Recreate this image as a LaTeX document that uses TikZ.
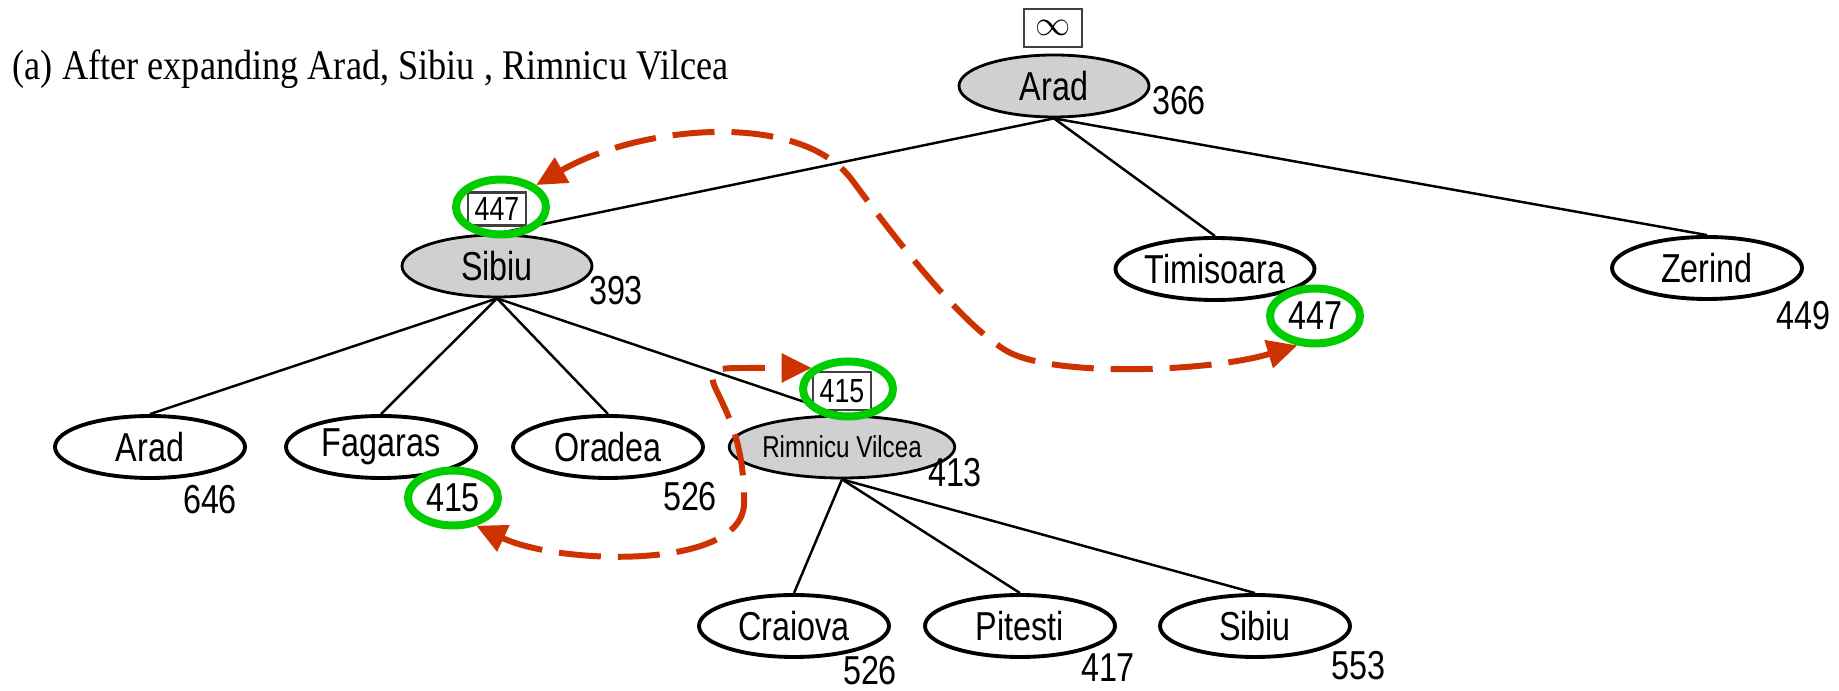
\documentclass[tikz,border=0pt]{standalone}
\usepackage{fontspec}
\usepackage{tikz}
\usetikzlibrary{shapes.geometric,arrows.meta}
\newfontfamily\cityfont[FakeStretch=0.8]{Liberation Sans}
\newfontfamily\titlefont[FakeStretch=0.86]{Liberation Serif}
\definecolor{ringgreen}{RGB}{0,204,0}
\definecolor{jumpred}{RGB}{204,51,0}
\definecolor{openfill}{RGB}{208,208,208}

\begin{document}
\begin{tikzpicture}[
    city/.style={ellipse, draw=black, line width=1.1pt, fill=white, minimum width=1.9cm,
      minimum height=0.62cm, inner sep=0pt, font=\cityfont\fontsize{11.5}{13}\selectfont},
    expanded/.style={city, fill=openfill, line width=0.8pt},
    fval/.style={inner sep=0pt, font=\cityfont\fontsize{11.5}{13}\selectfont},
    limit/.style={draw=black!75, line width=0.6pt, fill=white, minimum width=0.58cm,
      minimum height=0.33cm, inner sep=0pt, font=\cityfont\fontsize{9.5}{11}\selectfont},
    ring/.style={ellipse, draw=ringgreen, line width=0.08cm, minimum width=0.9cm,
      minimum height=0.55cm, inner sep=0pt, font=\cityfont\fontsize{11.5}{13}\selectfont},
    tree/.style={line width=0.7pt},
    jump/.style={draw=jumpred, line width=1.7pt, dash pattern=on 0.42cm off 0.17cm,
      {Triangle[length=0.3cm,width=0.28cm]}-{Triangle[length=0.3cm,width=0.28cm]}}
  ]
    \useasboundingbox (0,0) rectangle (18.39,-6.91);
    \node[anchor=base west, inner sep=0pt, font=\titlefont\fontsize{12}{14}\selectfont]
      (title) at (0.12,-0.80) {(a) After expanding Arad, Sibiu , Rimnicu Vilcea};

    \node[expanded] (arad) at (10.54,-0.86) {Arad};
    \node[fval] (aradF) at (11.79,-1.01) {366};
    \node[expanded] (sibiu) at (4.97,-2.66) {Sibiu};
    \node[fval] (sibiuF) at (6.16,-2.91) {393};
    \node[city] (timisoara) at (12.15,-2.69) {Timisoara};
    \node[city] (zerind) at (17.07,-2.68) {Zerind};
    \node[fval] (zerindF) at (18.03,-3.16) {449};

    \node[city] (aradTwo) at (1.50,-4.47) {Arad};
    \node[fval] (aradTwoF) at (2.10,-5.00) {646};
    \node[city] (fagaras) at (3.81,-4.47) {Fagaras};
    \node[city] (oradea) at (6.08,-4.47) {Oradea};
    \node[fval] (oradeaF) at (6.90,-4.97) {526};
    \node[expanded, font=\cityfont\fontsize{8.6}{10}\selectfont] (rimnicu) at (8.42,-4.47) {Rimnicu Vilcea};
    \node[fval] (rimnicuF) at (9.55,-4.73) {413};

    \node[city] (craiova) at (7.94,-6.26) {Craiova};
    \node[fval] (craiovaF) at (8.70,-6.71) {526};
    \node[city] (pitesti) at (10.20,-6.26) {Pitesti};
    \node[fval] (pitestiF) at (11.08,-6.68) {417};
    \node[city] (sibiuTwo) at (12.55,-6.26) {Sibiu};
    \node[fval] (sibiuTwoF) at (13.58,-6.66) {553};

    \draw[tree] (arad.south) -- (sibiu.north);
    \draw[tree] (arad.south) -- (timisoara.north);
    \draw[tree] (arad.south) -- (zerind.north);
    \draw[tree] (sibiu.south) -- (aradTwo.north);
    \draw[tree] (sibiu.south) -- (fagaras.north);
    \draw[tree] (sibiu.south) -- (oradea.north);
    \draw[tree] (sibiu.south) -- (rimnicu.north);
    \draw[tree] (rimnicu.south) -- (craiova.north);
    \draw[tree] (rimnicu.south) -- (pitesti.north);
    \draw[tree] (rimnicu.south) -- (sibiuTwo.north);

    \node[limit, minimum height=0.38cm, font=\normalsize] (aradLimit) at (10.53,-0.28) {$\infty$};
    \node[limit] (sibiuLimit) at (4.97,-2.09) {447};
    \node[limit, minimum height=0.38cm] (rimnicuLimit) at (8.42,-3.91) {415};

    \node[ring] (sibiuRing) at (5.01,-2.07) {};
    \node[ring] (timisoaraRing) at (13.15,-3.16) {447};
    \node[ring] (fagarasRing) at (4.53,-4.98) {415};
    \node[ring] (rimnicuRing) at (8.48,-3.89) {};

    \draw[jump] (sibiuRing.32) .. controls (6.40,-1.25) and (8.00,-1.10) .. (8.52,-1.80)
      .. controls (9.00,-2.45) and (9.60,-3.22) .. (10.05,-3.50)
      .. controls (10.50,-3.78) and (12.10,-3.72) .. (timisoaraRing.239);
    \draw[jump] (fagarasRing.-50) .. controls (5.60,-5.65) and (7.40,-5.70) .. (7.44,-5.05)
      .. controls (7.45,-4.40) and (7.25,-4.10) .. (7.14,-3.85)
      .. controls (7.08,-3.68) and (7.20,-3.68) .. (7.45,-3.68) -- (rimnicuRing.150);
  \end{tikzpicture}
\end{document}
